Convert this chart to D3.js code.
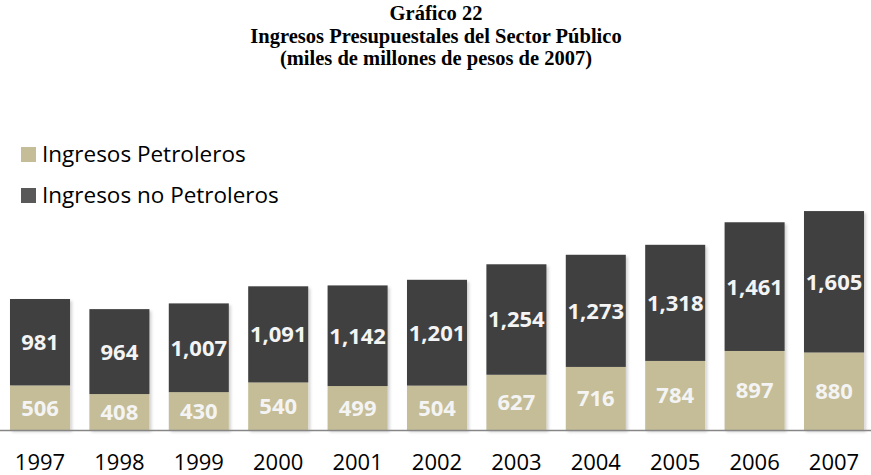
<!DOCTYPE html>
<html>
<head>
<meta charset="utf-8">
<script src="https://cdn.jsdelivr.net/npm/d3@7/dist/d3.min.js"></script>
<style>
  html, body { margin: 0; padding: 0; background: #fff; }
  svg { display: block; }
</style>
</head>
<body>
<svg id="chart" width="871" height="475"></svg>
<script>
// data
var years = ["1997", "1998", "1999", "2000", "2001", "2002", "2003", "2004", "2005", "2006", "2007"];
var petroleros = [506, 408, 430, 540, 499, 504, 627, 716, 784, 897, 880];
var noPetroleros = [981, 964, 1007, 1091, 1142, 1201, 1254, 1273, 1318, 1461, 1605];
var seriesNames = ["Ingresos Petroleros", "Ingresos no Petroleros"];
var titleLines = ["Gráfico 22", "Ingresos Presupuestales del Sector Público", "(miles de millones de pesos de 2007)"];

var colors = ["#c4bd97", "#404040"];
var width = 871, height = 475;
var svg = d3.select("#chart");

// drop shadow like the office chart
var defs = svg.append("defs");
var f = defs.append("filter").attr("id", "shadow")
    .attr("x", "-10%").attr("y", "-10%").attr("width", "130%").attr("height", "130%");
f.append("feDropShadow").attr("dx", 2).attr("dy", 2).attr("stdDeviation", 1.5)
    .attr("flood-color", "#000").attr("flood-opacity", 0.18);

// title
svg.append("g").selectAll("text")
  .data(titleLines)
  .enter().append("text")
    .attr("x", 436)
    .attr("y", function(d, i) { return 20 + i * 22.5; })
    .attr("text-anchor", "middle")
    .style("font-family", "'Liberation Serif', 'Times New Roman', serif")
    .style("font-weight", "bold")
    .style("font-size", "20.5px")
    .text(function(d) { return d; });

// scales
var x = d3.scaleBand()
    .domain(years)
    .range([0.3, 873.7])
    .paddingInner(0.244)
    .paddingOuter(0.122);

var baseY = 430;
var y = d3.scaleLinear()
    .domain([0, 2500])
    .range([baseY, baseY - 2500 * 0.0881]);

var rows = years.map(function(yr, i) {
  return { year: yr, Petro: petroleros[i], NoPetro: noPetroleros[i] };
});
var stacked = d3.stack().keys(["Petro", "NoPetro"])(rows);

var fmt = d3.format(",");

// bars
var bars = svg.append("g").attr("filter", "url(#shadow)");
stacked.forEach(function(layer, li) {
  bars.selectAll(".bar" + li)
    .data(layer)
    .enter().append("rect")
      .attr("class", "bar" + li)
      .attr("x", function(d) { return x(d.data.year); })
      .attr("width", x.bandwidth())
      .attr("y", function(d) { return y(d[1]); })
      .attr("height", function(d) { return y(d[0]) - y(d[1]); })
      .attr("fill", colors[li]);
});

// axis line
svg.append("line")
    .attr("x1", 0).attr("x2", width)
    .attr("y1", baseY + 0.5).attr("y2", baseY + 0.5)
    .attr("stroke", "#868686")
    .attr("stroke-width", 1.5);

// value labels
stacked.forEach(function(layer, li) {
  svg.append("g").selectAll("text")
    .data(layer)
    .enter().append("text")
      .attr("x", function(d) { return x(d.data.year) + x.bandwidth() / 2; })
      .attr("y", function(d) { return (y(d[0]) + y(d[1])) / 2; })
      .attr("dy", "0.36em")
      .attr("text-anchor", "middle")
      .style("font-family", "'Open Sans', Lato, sans-serif")
      .style("font-weight", "bold")
      .style("font-size", "22px")
      .style("fill", "#f4f4f4")
      .text(function(d) { return fmt(d[1] - d[0]); });
});

// x labels
svg.append("g").selectAll("text")
  .data(years)
  .enter().append("text")
    .attr("x", function(d) { return x(d) + x.bandwidth() / 2; })
    .attr("y", 470)
    .attr("text-anchor", "middle")
    .style("font-family", "'Open Sans', Lato, sans-serif")
    .style("font-size", "22px")
    .style("fill", "#000")
    .text(function(d) { return d; });

// legend
var legend = svg.append("g").selectAll("g")
  .data(seriesNames)
  .enter().append("g")
    .attr("transform", function(d, i) { return "translate(21," + (147 + i * 41) + ")"; });
legend.append("rect")
    .attr("width", 15).attr("height", 15)
    .attr("fill", function(d, i) { return i === 0 ? colors[0] : "#595959"; });
legend.append("text")
    .attr("x", 21).attr("y", 15)
    .style("font-family", "'Open Sans', Lato, sans-serif")
    .style("font-size", "22.5px")
    .style("fill", "#000")
    .text(function(d) { return d; });
</script>
</body>
</html>
